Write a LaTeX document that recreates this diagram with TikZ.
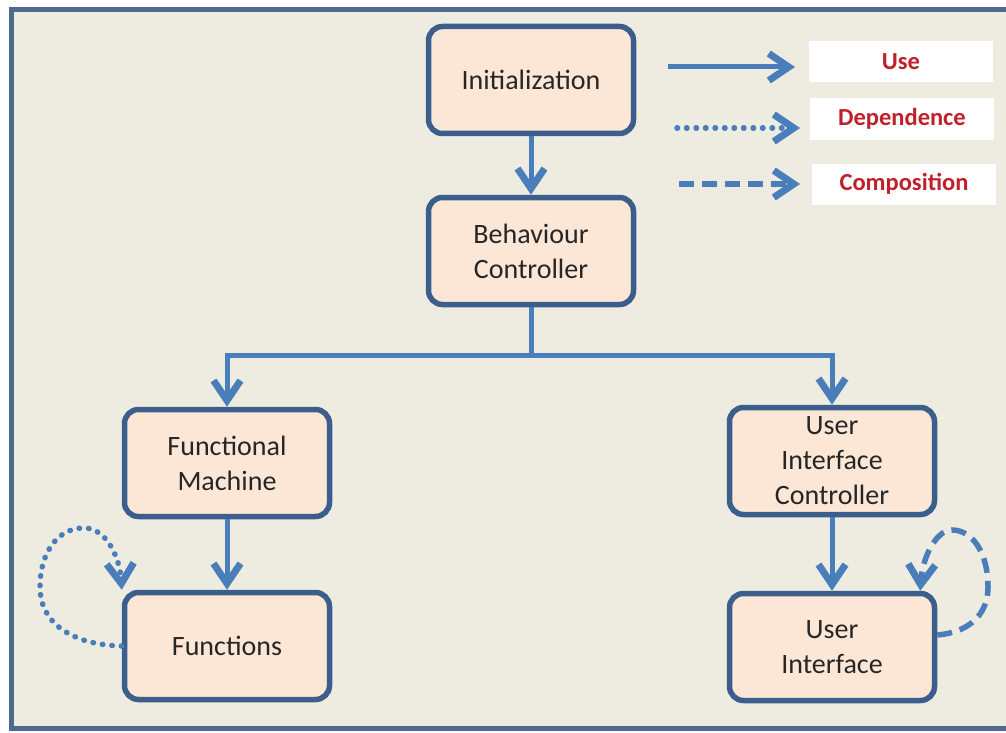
\documentclass[tikz,border=0pt]{standalone}
\usepackage{fontspec}
\setmainfont{Carlito}
\usetikzlibrary{arrows.meta}

\definecolor{paper}{HTML}{EEECE1}
\definecolor{frameblue}{HTML}{4F6A8F}
\definecolor{boxblue}{HTML}{3B5E8C}
\definecolor{boxfill}{HTML}{FCE6D6}
\definecolor{linkblue}{HTML}{4A7EBB}
\definecolor{legendred}{HTML}{C0202A}

\begin{document}
\begin{tikzpicture}[
  x=1pt,
  y=-1pt,
  block/.style={draw=boxblue, fill=boxfill, line width=5.5pt, rounded corners=14pt,
    minimum width=205pt, minimum height=107pt, align=center,
    font=\fontsize{28}{35}\selectfont, text=black!85},
  key/.style={fill=white, minimum width=184pt, minimum height=41pt,
    font=\fontsize{24.5}{28}\selectfont\bfseries, text=legendred},
  link/.style={draw=linkblue, line width=5pt,
    -{Straight Barb[length=20pt,width=27pt,line width=7pt]}},
  depend/.style={link, line cap=round, dash pattern=on 0.5pt off 9pt, line width=5.5pt},
  compose/.style={link, dash pattern=on 15pt off 8pt, line width=5.5pt}
]

\useasboundingbox (0,0) rectangle (1006,733);
\fill[white] (0,0) rectangle (1006,733);
\filldraw[fill=paper, draw=frameblue, line width=5pt] (11,10) rectangle (1015,728);

% boxes
\node[block] (init) at (531,80) {Initialization};
\node[block] (bc)   at (531,251) {Behaviour\\Controller};
\node[block] (fm)   at (227,463) {Functional\\Machine};
\node[block] (fns)  at (227,646) {Functions};
\node[block] (uic)  at (832,461) {User\\Interface\\Controller};
\node[block] (ui)   at (832,647) {User\\Interface};

% legend
\node[key] (use)  at (901,62)  {Use};
\node[key] (dep)  at (902,119) {Dependence};
\node[key] (comp) at (904,184) {Composition};
\coordinate (use-a)  at (668,67);
\coordinate (use-b)  at (795,67);
\coordinate (dep-a)  at (677,128);
\coordinate (dep-b)  at (800,128);
\coordinate (comp-a) at (679,184);
\coordinate (comp-b) at (800,184);
\draw[link]    (use-a) -- (use-b);
\draw[depend]  (dep-a) -- (dep-b);
\draw[compose] (comp-a) -- (comp-b);

% connectors
\coordinate (split) at (531,355);
\draw[link] (init) -- (bc);
\draw[draw=linkblue, line width=5pt] (bc) -- (split);
\draw[link] (split) -| (fm);
\draw[link] (split) -| (uic);
\draw[link] (fm) -- (fns);
\draw[link] (uic) -- (ui);

% self loops
\draw[depend] (fns.west) .. controls (75,645) and (40,625) .. (40,587)
  .. controls (40,550) and (60,527) .. (85,528)
  .. controls (108,529) and (120,560) .. (fns.north west);
\draw[compose] ([yshift=12pt]ui.east) .. controls (972,632) and (988,612) .. (988,587)
  .. controls (988,552) and (972,530) .. (952,530)
  .. controls (935,530) and (922,560) .. ([xshift=-17pt]ui.north east);
\end{tikzpicture}
\end{document}
